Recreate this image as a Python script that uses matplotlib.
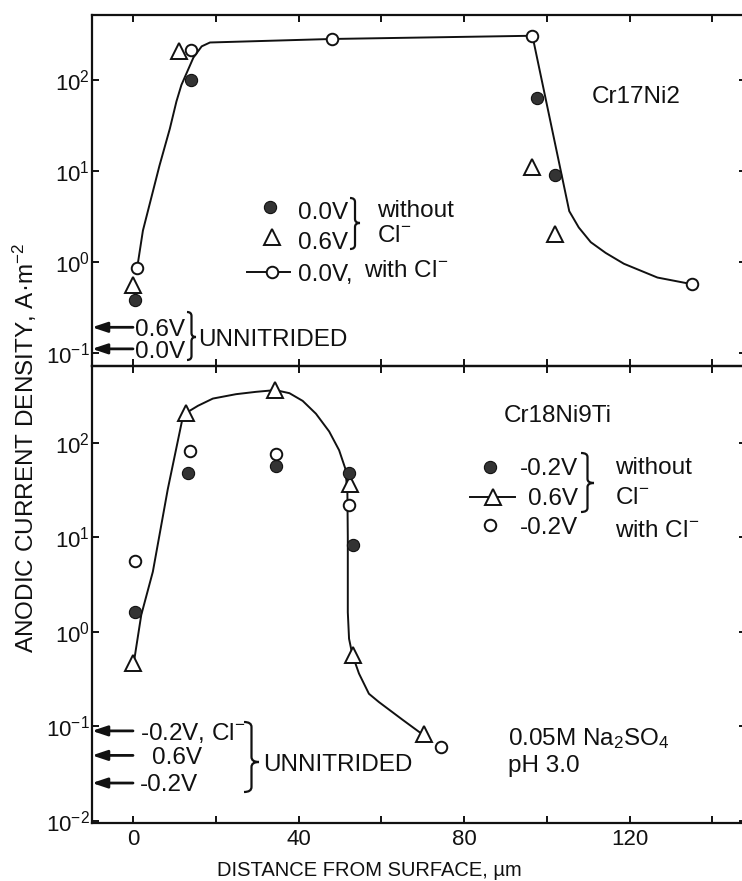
import matplotlib
matplotlib.use("Agg")
import matplotlib.pyplot as plt
from matplotlib.lines import Line2D
from matplotlib.path import Path
from matplotlib.patches import PathPatch
from matplotlib.ticker import (FixedLocator, NullLocator,
                               LogFormatterSciNotation, FuncFormatter)

plt.rcParams['font.family'] = ['Liberation Sans', 'DejaVu Sans']
plt.rcParams['mathtext.fontset'] = 'custom'
plt.rcParams['mathtext.rm'] = 'Liberation Sans'
plt.rcParams['mathtext.it'] = 'Liberation Sans:italic'
plt.rcParams['mathtext.bf'] = 'Liberation Sans:bold'
plt.rcParams['mathtext.default'] = 'regular'

# ---------------- Cr17Ni2 (upper panel) ----------------
cr17_dry0_x = [0.5, 14, 97.5, 102]          # 0.0 V, without Cl-
cr17_dry0_y = [0.38, 100, 63, 8.9]
cr17_dry6_x = [0, 11, 96.5, 102]            # 0.6 V, without Cl-
cr17_dry6_y = [0.55, 210, 11, 2.0]
cr17_cl0_x = [1, 14, 48, 96.5, 135]         # 0.0 V, with Cl-
cr17_cl0_y = [0.85, 215, 282, 306, 0.57]
cr17_curve_x = [1, 2.4, 6.4, 8.9, 10.5, 11.7, 14.6, 16.6, 18.6, 48, 96.5,
                105.4, 107.7, 110.6, 114.2, 118.6, 126.7, 134.7]
cr17_curve_y = [0.85, 2.2, 11.4, 29, 58, 88, 176, 234, 258, 282, 306,
                3.6, 2.38, 1.64, 1.25, 0.95, 0.67, 0.57]
cr17_unnitrided_labels = ['0.6V', '0.0V']
cr17_unnitrided_values = [0.19, 0.11]

# ---------------- Cr18Ni9Ti (lower panel) ----------------
cr18_dry2_x = [0.6, 13.4, 34.5, 52.3, 53.2]       # -0.2 V, without Cl-
cr18_dry2_y = [1.6, 48, 57, 48, 8.3]
cr18_dry6_x = [0, 12.7, 34.4, 52.4, 53.2, 70.3]   # 0.6 V, without Cl-
cr18_dry6_y = [0.46, 204, 359, 36, 0.57, 0.082]
cr18_cl2_x = [0.6, 13.7, 34.5, 52.3, 74.4]        # -0.2 V, with Cl-
cr18_cl2_y = [5.6, 81, 75, 22, 0.06]
cr18_curve_x = [0.3, 2.0, 4.8, 8.4, 12.0, 12.7, 15.7, 19.3, 24.9, 29.7, 34.4,
                37.8, 41.0, 44.2, 47.4, 49.8, 51.3, 51.8, 51.9, 51.9,
                52.2, 53.0, 54.6, 57.0, 59.4, 65.1, 69.9]
cr18_curve_y = [0.5, 1.5, 4.3, 32, 183, 204, 245, 292, 325, 344, 359,
                333, 276, 202, 131, 83, 53, 30, 10, 1.6,
                0.84, 0.57, 0.36, 0.22, 0.18, 0.117, 0.082]
cr18_unnitrided_labels = ['-0.2V, Cl$^{-}$', '0.6V', '-0.2V']
cr18_unnitrided_values = [0.089, 0.049, 0.025]

x_ticks = [0, 20, 40, 60, 80, 100, 120, 140]
x_labelled = [0, 40, 80, 120]

W, H = 742, 881
fig = plt.figure(figsize=(W / 100, H / 100), dpi=100)


def fx(px):
    return px / W


def fy(py):
    return 1 - py / H


ax1 = fig.add_axes([fx(92), fy(366), (746 - 92) / W, (366 - 15) / H])
ax2 = fig.add_axes([fx(92), fy(823), (746 - 92) / W, (823 - 366) / H])

INK = '#111111'
DARK = '#333333'
TXT = 17.5


def style_axes(ax, ylim, decades, show_x):
    ax.set_xlim(-9.9, 148.1)
    ax.set_yscale('log')
    ax.set_ylim(*ylim)
    ax.xaxis.set_major_locator(FixedLocator(x_ticks))
    ax.yaxis.set_major_locator(FixedLocator(decades))
    ax.yaxis.set_minor_locator(NullLocator())
    ax.yaxis.set_major_formatter(LogFormatterSciNotation())
    if show_x:
        ax.xaxis.set_major_formatter(FuncFormatter(
            lambda v, p: f"{int(round(v))}" if int(round(v)) in x_labelled else ""))
    ax.tick_params(axis='x', which='major', direction='in', length=5, width=1.4,
                   top=True, bottom=True, labelbottom=show_x, labelsize=16, pad=4,
                   color=INK, labelcolor=INK)
    ax.tick_params(axis='y', which='major', direction='in', length=5, width=1.4,
                   left=True, right=True, labelsize=16, pad=1.5,
                   color=INK, labelcolor=INK)
    for s in ax.spines.values():
        s.set_linewidth(1.6)
        s.set_color(INK)
    ax.patch.set_alpha(0)


style_axes(ax1, (10 ** -1.147, 10 ** 2.714), [0.1, 1, 10, 100], False)
style_axes(ax2, (10 ** -2.025, 10 ** 2.81), [0.01, 0.1, 1, 10, 100], True)

line_kw = dict(color=INK, lw=1.4, zorder=2)
filled_kw = dict(ls='none', marker='o', ms=8.8, mfc=DARK, mec=INK, mew=0.8, zorder=3)
open_kw = dict(ls='none', marker='o', ms=8.3, mfc='white', mec=INK, mew=1.4, zorder=3)
tri_kw = dict(ls='none', marker='^', ms=11, mfc='white', mec=INK, mew=1.4, zorder=3)

# upper panel
ax1.plot(cr17_curve_x, cr17_curve_y, **line_kw)
ax1.plot(cr17_dry6_x, cr17_dry6_y, **tri_kw)
ax1.plot(cr17_dry0_x, cr17_dry0_y, **filled_kw)
ax1.plot(cr17_cl0_x, cr17_cl0_y, **open_kw)

# lower panel
ax2.plot(cr18_curve_x, cr18_curve_y, **line_kw)
ax2.plot(cr18_dry6_x, cr18_dry6_y, **tri_kw)
ax2.plot(cr18_dry2_x, cr18_dry2_y, **filled_kw)
ax2.plot(cr18_cl2_x, cr18_cl2_y, **open_kw)


def text(px, cy, s, size=TXT, ha='left'):
    base = cy + 0.358 * size * 100 / 72
    fig.text(fx(px), fy(base), s, fontsize=size, ha=ha, va='baseline', color=INK)


def mark(px, py, **kw):
    fig.add_artist(Line2D([fx(px)], [fy(py)], transform=fig.transFigure, **kw))


def seg(x0, x1, py):
    fig.add_artist(Line2D([fx(x0), fx(x1)], [fy(py), fy(py)],
                          transform=fig.transFigure, color=INK, lw=1.4))


def brace(x0, ytop, ybot, ytip, w, r=4, lw=1.6):
    xm = x0 + w / 2
    pts = [(x0, ytop), (xm, ytop), (xm, ytop + r), (xm, ytip - r), (xm, ytip), (x0 + w, ytip),
           (x0 + w, ytip), (xm, ytip), (xm, ytip + r), (xm, ybot - r), (xm, ybot), (x0, ybot)]
    codes = [Path.MOVETO, Path.CURVE3, Path.CURVE3, Path.LINETO, Path.CURVE3, Path.CURVE3,
             Path.MOVETO, Path.CURVE3, Path.CURVE3, Path.LINETO, Path.CURVE3, Path.CURVE3]
    path = Path([(fx(a), fy(b)) for a, b in pts], codes)
    fig.add_artist(PathPatch(path, fill=False, lw=lw, edgecolor=INK,
                             transform=fig.transFigure))


def unnitrided_arrows(ax, values):
    for v in values:
        ax.annotate('', xy=(0, v), xycoords=('axes fraction', 'data'),
                    xytext=(41, 0), textcoords='offset pixels',
                    arrowprops=dict(arrowstyle='-|>,head_length=0.9,head_width=0.3',
                                    mutation_scale=10, lw=2.0, color=INK,
                                    shrinkA=0, shrinkB=0))


# panel titles
text(591.7, 94.3, 'Cr17Ni2')
text(503.3, 413.3, 'Cr18Ni9Ti')

# upper legend
mark(270, 207.3, **filled_kw)
mark(271.7, 237.3, **tri_kw)
seg(246.7, 290, 271.7)
mark(271.7, 271.7, **open_kw)
text(298, 210, '0.0V')
text(298, 240, '0.6V')
text(298, 272, '0.0V,')
brace(350, 198, 249, 223, 10)
text(377, 208, 'without')
text(377, 233, 'Cl$^{-}$')
text(364, 268, 'with Cl$^{-}$')

# upper unnitrided reference levels
unnitrided_arrows(ax1, cr17_unnitrided_values)
text(135, 327.3, cr17_unnitrided_labels[0])
text(135, 349.3, cr17_unnitrided_labels[1])
brace(187, 312, 360, 337, 9)
text(198, 337.3, 'UNNITRIDED')

# lower legend
mark(490, 466.7, **filled_kw)
seg(470, 515, 496.7)
mark(492.7, 496.7, **tri_kw)
mark(490, 525, **open_kw)
text(578, 466.7, '-0.2V', ha='right')
text(578, 496.7, '0.6V', ha='right')
text(578, 525, '-0.2V', ha='right')
brace(581, 453, 512, 483, 13)
text(615, 465, 'without')
text(615, 495, 'Cl$^{-}$')
text(615, 528, 'with Cl$^{-}$')

# lower unnitrided reference levels
unnitrided_arrows(ax2, cr18_unnitrided_values)
text(140, 731, cr18_unnitrided_labels[0])
text(152, 755.7, cr18_unnitrided_labels[1])
text(140, 782.3, cr18_unnitrided_labels[2])
brace(244, 722, 792, 762, 15, r=5)
text(263, 762, 'UNNITRIDED')

# electrolyte
text(508, 736.7, '0.05M Na$_2$SO$_4$')
text(508, 763.3, 'pH 3.0')

# axis titles
fig.text(fx(369), fy(870), 'DISTANCE FROM SURFACE, µm', fontsize=14.5,
         ha='center', va='center', color=INK)
fig.text(fx(25), fy(448), 'ANODIC CURRENT DENSITY, A·m$^{-2}$', fontsize=17.5,
         ha='center', va='center', rotation=90, color=INK)

fig.savefig('out.png', dpi=100)
